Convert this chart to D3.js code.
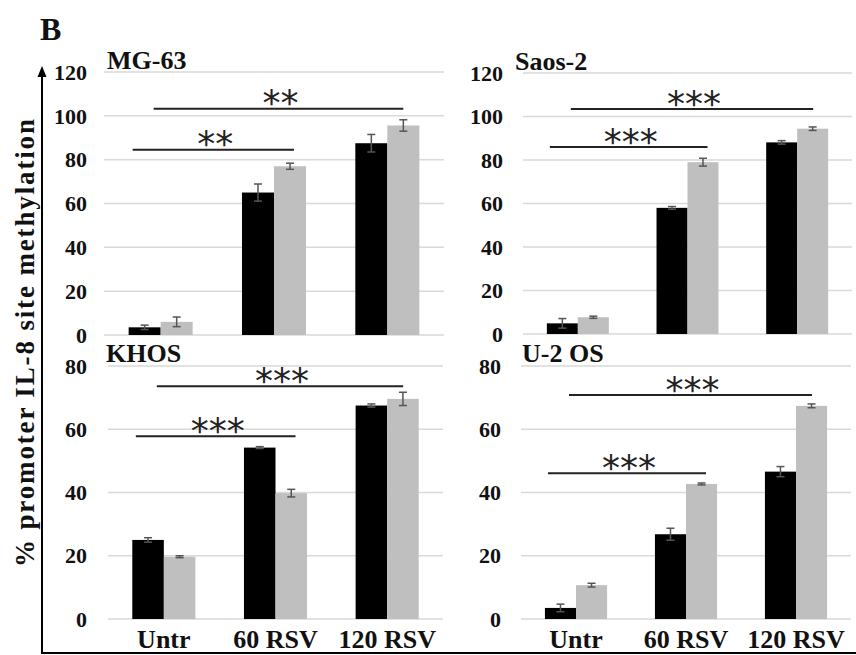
<!DOCTYPE html>
<html><head><meta charset="utf-8">
<script src="https://cdn.jsdelivr.net/npm/d3@7"></script>
<style>body{margin:0;background:#fff}svg{display:block}</style>
</head><body>
<svg id="c" width="856" height="655"></svg>
<script>
// ---- data ----
const categories = ["Untr", "60 RSV", "120 RSV"];
const series = ["black", "gray"];
const panelNames = ["MG-63", "Saos-2", "KHOS", "U-2 OS"];

const mg63Black = [3.5, 65, 87.5],  mg63BlackErr = [1.0, 3.9, 4.0];
const mg63Gray  = [6, 77, 95.6],    mg63GrayErr  = [2.2, 1.4, 2.6];
const saosBlack = [4.9, 58, 88.1],  saosBlackErr = [2.2, 0.6, 0.8];
const saosGray  = [7.7, 79, 94.4],  saosGrayErr  = [0.5, 1.8, 0.8];
const khosBlack = [25, 54.2, 67.5], khosBlackErr = [0.7, 0.3, 0.5];
const khosGray  = [19.7, 39.8, 69.6], khosGrayErr = [0.3, 1.2, 2.1];
const u2osBlack = [3.5, 26.8, 46.6], u2osBlackErr = [1.2, 1.9, 1.6];
const u2osGray  = [10.7, 42.7, 67.4], u2osGrayErr = [0.6, 0.3, 0.6];

const topTicks = [0, 20, 40, 60, 80, 100, 120];
const bottomTicks = [0, 20, 40, 60, 80];

// significance brackets: [fromCategory, toCategory, yValue, label]
const mg63Sig = [[0, 1, 84.5, "**"], [0, 2, 103.2, "**"]];
const saosSig = [[0, 1, 86, "***"], [0, 2, 103.4, "***"]];
const khosSig = [[0, 1, 57.8, "***"], [0, 2, 73.6, "***"]];
const u2osSig = [[0, 1, 46.1, "***"], [0, 2, 70.8, "***"]];

const yAxisTitle = "% promoter IL-8 site methylation";
const panelLetter = "B";

// ---- layout ----
const panels = [
  {name: panelNames[0], black: mg63Black, bErr: mg63BlackErr, gray: mg63Gray, gErr: mg63GrayErr, sig: mg63Sig,
   x: [104, 444], y: [335, 72], max: 120, ticks: topTicks, titleX: 107, titleY: 69, labelRight: 87, cats: false},
  {name: panelNames[1], black: saosBlack, bErr: saosBlackErr, gray: saosGray, gErr: saosGrayErr, sig: saosSig,
   x: [523, 852], y: [334, 73], max: 120, ticks: topTicks, titleX: 515, titleY: 70, labelRight: 503, cats: false},
  {name: panelNames[2], black: khosBlack, bErr: khosBlackErr, gray: khosGray, gErr: khosGrayErr, sig: khosSig,
   x: [108, 443], y: [619, 366], max: 80, ticks: bottomTicks, titleX: 106, titleY: 362, labelRight: 87, cats: true},
  {name: panelNames[3], black: u2osBlack, bErr: u2osBlackErr, gray: u2osGray, gErr: u2osGrayErr, sig: u2osSig,
   x: [521, 851], y: [619, 366], max: 80, ticks: bottomTicks, titleX: 522, titleY: 362, labelRight: 501, cats: true}
];

const svg = d3.select("#c");
const serif = "'Liberation Serif', 'Times New Roman', serif";
const colors = {black: "#000000", gray: "#bfbfbf"};
const starSize = 36;

panels.forEach(p => {
  const g = svg.append("g");
  const x = d3.scaleBand().domain(categories).range(p.x).padding(0);
  const bw = x.bandwidth();
  const x1 = d3.scaleBand().domain(series).range([bw * 0.2175, bw * 0.7825]).padding(0);
  const y = d3.scaleLinear().domain([0, p.max]).range(p.y);

  // gridlines
  g.selectAll("line.grid").data(p.ticks).join("line")
    .attr("x1", p.x[0]).attr("x2", p.x[1])
    .attr("y1", d => y(d)).attr("y2", d => y(d))
    .attr("stroke", "#d9d9d9").attr("stroke-width", 1.5);

  // tick labels
  g.selectAll("text.tick").data(p.ticks).join("text")
    .attr("x", p.labelRight).attr("y", d => y(d))
    .attr("dy", "0.35em").attr("text-anchor", "end")
    .attr("font-family", serif).attr("font-weight", "bold").attr("font-size", 22)
    .attr("fill", "#111").text(d => d);

  // bars
  const rows = categories.map((c, i) => [
    {cat: c, s: "black", v: p.black[i], e: p.bErr[i]},
    {cat: c, s: "gray", v: p.gray[i], e: p.gErr[i]}
  ]).flat();

  g.selectAll("rect.bar").data(rows).join("rect")
    .attr("x", d => x(d.cat) + x1(d.s))
    .attr("width", x1.bandwidth())
    .attr("y", d => y(d.v))
    .attr("height", d => y(0) - y(d.v))
    .attr("fill", d => colors[d.s]);

  // error bars
  const eg = g.selectAll("g.err").data(rows).join("g")
    .attr("stroke", "#555").attr("stroke-width", 1.5);
  eg.append("line")
    .attr("x1", d => x(d.cat) + x1(d.s) + x1.bandwidth() / 2)
    .attr("x2", d => x(d.cat) + x1(d.s) + x1.bandwidth() / 2)
    .attr("y1", d => y(d.v + d.e)).attr("y2", d => y(d.v - d.e));
  [1, -1].forEach(sgn => {
    eg.append("line")
      .attr("x1", d => x(d.cat) + x1(d.s) + x1.bandwidth() / 2 - 4)
      .attr("x2", d => x(d.cat) + x1(d.s) + x1.bandwidth() / 2 + 4)
      .attr("y1", d => y(d.v + sgn * d.e)).attr("y2", d => y(d.v + sgn * d.e));
  });

  // significance brackets
  p.sig.forEach(([a, b, v, lab], k) => {
    const cA = x(categories[a]) + bw / 2, cB = x(categories[b]) + bw / 2;
    const x0 = k === 0 ? cA - 28 : cA - 7;
    const xEnd = k === 0 ? cB + 20 : cB + 16;
    g.append("line").attr("x1", x0).attr("x2", xEnd)
      .attr("y1", y(v)).attr("y2", y(v))
      .attr("stroke", "#222").attr("stroke-width", 2);
    g.append("text").attr("x", (x0 + xEnd) / 2 + 2).attr("y", y(v) - 13 + starSize * 0.545)
      .attr("text-anchor", "middle")
      .attr("font-family", "'DejaVu Sans', sans-serif").attr("font-size", starSize)
      .attr("letter-spacing", 0)
      .attr("fill", "#222").text(lab);
  });

  // panel title
  g.append("text").attr("x", p.titleX).attr("y", p.titleY)
    .attr("font-family", serif).attr("font-weight", "bold").attr("font-size", 26)
    .attr("fill", "#111").text(p.name);

  // category labels
  if (p.cats) {
    g.selectAll("text.cat").data(categories).join("text")
      .attr("x", d => x(d) + bw / 2).attr("y", 648)
      .attr("text-anchor", "middle")
      .attr("font-family", serif).attr("font-weight", "bold").attr("font-size", 26)
      .attr("fill", "#111").text(d => d);
  }
});

// big axis with arrow
svg.append("line").attr("x1", 42).attr("x2", 42).attr("y1", 74).attr("y2", 654)
  .attr("stroke", "#000").attr("stroke-width", 2);
svg.append("path").attr("d", "M42,66 L37.5,77 L46.5,77 Z").attr("fill", "#000");
svg.append("line").attr("x1", 41).attr("x2", 856).attr("y1", 653).attr("y2", 653)
  .attr("stroke", "#000").attr("stroke-width", 2);

// y-axis title
svg.append("text").attr("transform", "translate(34,343) rotate(-90)")
  .attr("text-anchor", "middle")
  .attr("font-family", serif).attr("font-weight", "bold").attr("font-size", 27)
  .attr("textLength", 448).attr("lengthAdjust", "spacing")
  .attr("fill", "#111").text(yAxisTitle);

// panel letter
svg.append("text").attr("x", 40).attr("y", 40)
  .attr("font-family", serif).attr("font-weight", "bold").attr("font-size", 32)
  .attr("fill", "#111").text(panelLetter);
</script>
</body></html>
